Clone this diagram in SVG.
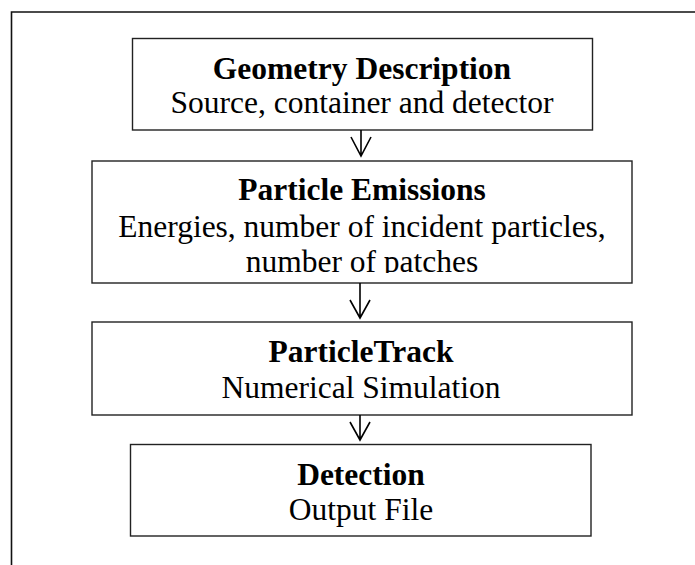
<svg xmlns="http://www.w3.org/2000/svg" width="695" height="565" viewBox="0 0 695 565">
<style>
.box{fill:#fff;stroke:#222;stroke-width:1.4}
.frame{fill:none;stroke:#111;stroke-width:1.6}
.t{font-family:"Liberation Serif","Times New Roman",serif;font-size:31.5px;text-anchor:middle;fill:#000}
.b{font-weight:bold}
.con{fill:none;stroke:#000;stroke-width:1.6}
</style>
<defs>
<clipPath id="clip2"><rect x="92" y="161" width="540" height="112"/></clipPath>
</defs>
<rect width="695" height="565" fill="#fff"/>
<path class="frame" d="M11.5,565 V12 H695"/>
<g id="node-geometry">
<rect class="box" x="132.5" y="38.5" width="460" height="91.5"/>
<text class="t b" x="362" y="79">Geometry Description</text>
<text class="t" x="362" y="113">Source, container and detector</text>
</g>
<g id="node-emissions">
<rect class="box" x="92" y="161" width="540" height="122"/>
<g clip-path="url(#clip2)">
<text class="t b" x="362" y="200">Particle Emissions</text>
<text class="t" x="362" y="237">Energies, number of incident particles,</text>
<text class="t" x="362" y="272">number of patches</text>
</g>
</g>
<g id="node-track">
<rect class="box" x="92" y="322" width="540" height="93"/>
<text class="t b" x="361" y="362">ParticleTrack</text>
<text class="t" x="361" y="398">Numerical Simulation</text>
</g>
<g id="node-detection">
<rect class="box" x="130.5" y="444.5" width="460.5" height="91.5"/>
<text class="t b" x="361" y="485">Detection</text>
<text class="t" x="361" y="520">Output File</text>
</g>
<g id="connectors">
<path class="con" d="M361,130 V156 M351,137 L361,156 L371,137"/>
<path class="con" d="M360,283 V318 M350,300 L360,318 L370,300"/>
<path class="con" d="M360,415 V440 M350,422 L360,440 L370,422"/>
</g>
</svg>
